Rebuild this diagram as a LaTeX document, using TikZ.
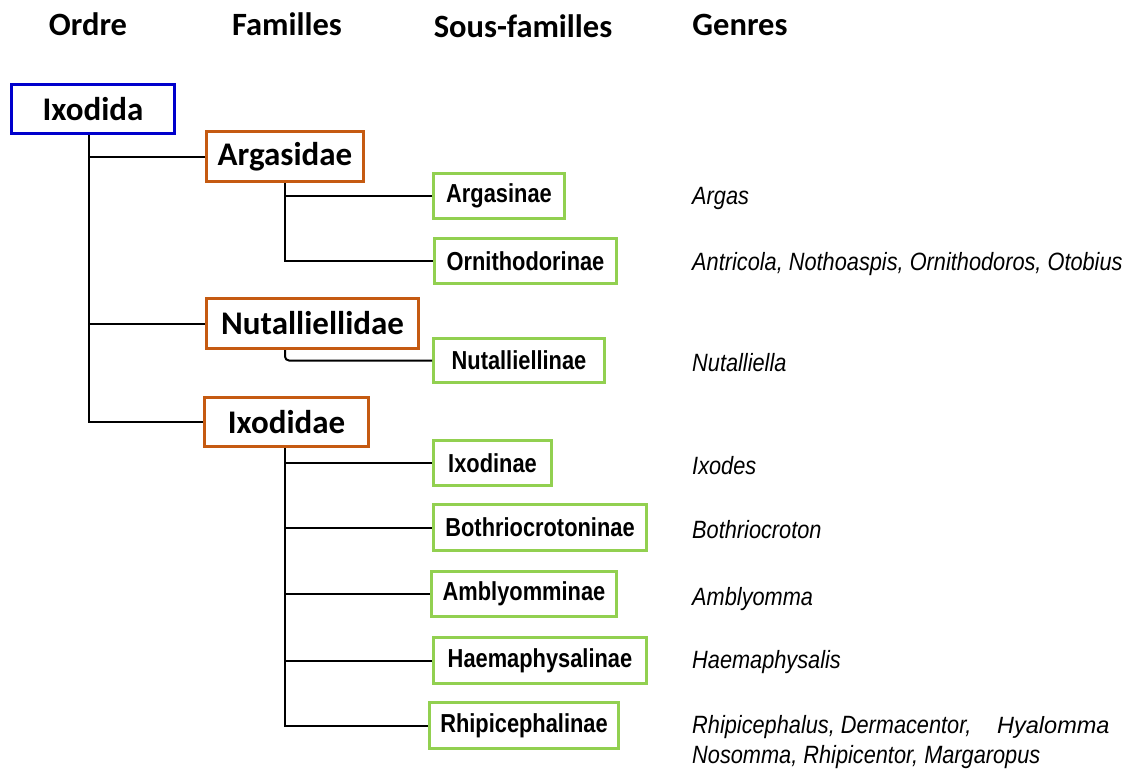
\documentclass[tikz,border=0pt]{standalone}
\usepackage{fontspec}
\setmainfont{Carlito}
\newfontfamily\subfont[FakeStretch=0.84]{Liberation Sans}
\newfontfamily\genfont[FakeStretch=0.87]{Liberation Sans}
\newfontfamily\plainarial{Liberation Sans}
\definecolor{ordblue}{RGB}{0,0,204}
\definecolor{famorange}{RGB}{197,90,17}
\definecolor{subgreen}{RGB}{146,208,80}
\begin{document}
\begin{tikzpicture}[x=1pt,y=-1pt,
  header/.style={anchor=base,font=\fontsize{32.5}{36}\selectfont\bfseries},
  ordbox/.style={draw=ordblue,line width=3pt,fill=white,inner sep=0pt,font=\fontsize{33}{36}\selectfont\bfseries},
  fambox/.style={draw=famorange,line width=3pt,fill=white,inner sep=0pt,font=\fontsize{33}{36}\selectfont\bfseries},
  subbox/.style={draw=subgreen,line width=3pt,fill=white,inner sep=0pt,font=\subfont\fontsize{26}{30}\selectfont\bfseries},
  genus/.style={anchor=west,inner sep=0pt,font=\genfont\fontsize{25}{29}\selectfont\itshape},
  link/.style={line width=2pt,black}]
\useasboundingbox (0,0) rectangle (1126,769);
\fill[white] (0,0) rectangle (1126,769);
% headers
\node[header] (hOrdre) at (88,35) {Ordre};
\node[header] (hFam) at (287,35) {Familles};
\node[header] (hSous) at (523,37) {Sous-familles};
\node[header] (hGen) at (740,35) {Genres};
% boxes
\node[ordbox,minimum width=163pt,minimum height=49pt] (ixodida) at (93,109) {Ixodida};
\node[fambox,minimum width=157pt,minimum height=50pt] (argasidae) at (285,156.5) {Argasidae};
\node[fambox,minimum width=212pt,minimum height=50pt] (nutalliellidae) at (312.5,323.5) {Nutalliellidae};
\node[fambox,minimum width=164pt,minimum height=49pt] (ixodidae) at (286.5,422) {Ixodidae};
\node[subbox,minimum width=131pt,minimum height=45pt] (argasinae) at (499,196) {Argasinae};
\node[subbox,minimum width=182pt,minimum height=45pt] (ornitho) at (525.5,261) {Ornithodorinae};
\node[subbox,minimum width=171pt,minimum height=44pt] (nutalliellinae) at (519,360.5) {Nutalliellinae};
\node[subbox,minimum width=118pt,minimum height=45pt] (ixodinae) at (492.5,463) {Ixodinae};
\node[subbox,minimum width=213pt,minimum height=46pt] (bothrio) at (540,527.5) {Bothriocrotoninae};
\node[subbox,minimum width=185pt,minimum height=45pt] (amblyo) at (524,594) {Amblyomminae};
\node[subbox,minimum width=213pt,minimum height=46pt] (haema) at (540,660.5) {Haemaphysalinae};
\node[subbox,minimum width=189pt,minimum height=46pt] (rhipi) at (524,725.5) {Rhipicephalinae};
% genera
\node[genus] (gArgas) at (692,198) {Argas};
\node[genus] (gOrni) at (692,264) {Antricola, Nothoaspis, Ornithodoros, Otobius};
\node[genus] (gNut) at (692,363) {Nutalliella};
\node[genus] (gIxo) at (692,466) {Ixodes};
\node[genus] (gBoth) at (692,530) {Bothriocroton};
\node[genus] (gAmb) at (692,599) {Amblyomma};
\node[genus] (gHae) at (692,662) {Haemaphysalis};
\node[genus] (gRhi1) at (692,727) {Rhipicephalus, Dermacentor,};
\node[genus] (gRhi2) at (692,757) {Nosomma, Rhipicentor, Margaropus};
\node[anchor=west,inner sep=0pt,font=\plainarial\fontsize{23.5}{27}\selectfont\itshape] (gHya) at (997,727) {Hyalomma};
% connectors
\draw[link] ([xshift=-4pt]ixodida.south) |- (argasidae.west);
\draw[link] ([xshift=-4pt]ixodida.south) |- (nutalliellidae.west);
\draw[link] ([xshift=-4pt]ixodida.south) |- (ixodidae.west);
\draw[link] (argasidae.south) |- (argasinae.west);
\draw[link] (argasidae.south) |- (ornitho.west);
\draw[link,rounded corners=4pt] ([xshift=-27.5pt]nutalliellidae.south) |- (nutalliellinae.west);
\draw[link] ([xshift=-1.5pt]ixodidae.south) |- (ixodinae.west);
\draw[link] ([xshift=-1.5pt]ixodidae.south) |- (bothrio.west);
\draw[link] ([xshift=-1.5pt]ixodidae.south) |- (amblyo.west);
\draw[link] ([xshift=-1.5pt]ixodidae.south) |- (haema.west);
\draw[link] ([xshift=-1.5pt]ixodidae.south) |- (rhipi.west);
\end{tikzpicture}
\end{document}
